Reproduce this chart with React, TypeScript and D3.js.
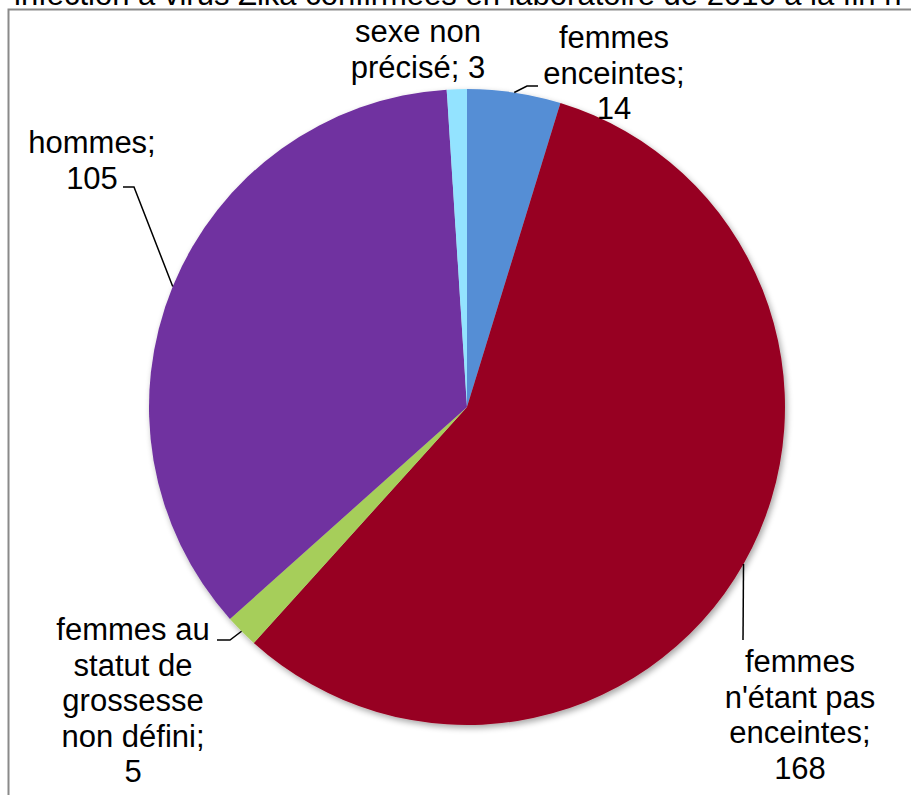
import React from "react";
import * as d3 from "d3";

const categories = [
  "femmes enceintes",
  "femmes n'étant pas enceintes",
  "femmes au statut de grossesse non défini",
  "hommes",
  "sexe non précisé",
];
const values = [14, 168, 5, 105, 3];
const colors = ["#558ED5", "#970020", "#A6CE5A", "#7030A0", "#93E3FF"];
const innerColors = ["#5A8FD6", "#970020", "#D6F59A", "#7030A0", "#2FB8D2"];
const labelLines = [
  ["femmes", "enceintes;", "14"],
  ["femmes", "n'étant pas", "enceintes;", "168"],
  ["femmes au", "statut de", "grossesse", "non défini;", "5"],
  ["hommes;", "105"],
  ["sexe non", "précisé; 3"],
];
const titleText =
  "infection à virus Zika confirmées en laboratoire de 2016 à la fin n";

// layout (not data)
const W = 911;
const H = 795;
const CX = 467;
const CY = 407;
const R = 318;
const FONT = 31;
const LH = 35.5;
const labelPos = [
  { x: 614, y: 48 },
  { x: 800, y: 672 },
  { x: 133, y: 640 },
  { x: 92, y: 153 },
  { x: 418, y: 42 },
];
// leader: elbow points after the pie-edge point
const leaders: ([number, number][] | null)[] = [
  [[527, 86], [538, 86]],
  [[743, 640]],
  [[230, 640], [217, 640]],
  [[134, 187], [123, 187]],
  null,
];

export default function App() {
  const pie = d3
    .pie<number>()
    .sort(null)
    .startAngle(0)
    .endAngle(2 * Math.PI)
    .value((d) => d);
  const arcs = pie(values);
  const arc = d3.arc<d3.PieArcDatum<number>>().innerRadius(0).outerRadius(R);

  return (
    <svg
      width={W}
      height={H}
      style={{ position: "absolute", left: 0, top: 0 }}
      fontFamily="'Liberation Sans', Arial, sans-serif"
    >
      <defs>
        <filter id="sh" x="-10%" y="-10%" width="120%" height="120%">
          <feGaussianBlur in="SourceAlpha" stdDeviation="3" />
          <feOffset dx="2" dy="3" result="b" />
          <feComponentTransfer>
            <feFuncA type="linear" slope="0.35" />
          </feComponentTransfer>
          <feMerge>
            <feMergeNode />
            <feMergeNode in="SourceGraphic" />
          </feMerge>
        </filter>
        {colors.map((c, i) => (
          <radialGradient
            key={i}
            id={`g${i}`}
            gradientUnits="userSpaceOnUse"
            cx={CX}
            cy={CY}
            r={R}
          >
            <stop offset="0" stopColor={innerColors[i]} />
            <stop offset="1" stopColor={c} />
          </radialGradient>
        ))}
      </defs>
      <rect x={0} y={0} width={W} height={H} fill="#fff" />
      <text x={14} y={5} fontSize={31} fill="#000">
        {titleText}
      </text>
      <path
        d={`M8.5,${H} L8.5,9.5 L${W},9.5`}
        fill="none"
        stroke="#8a8a8a"
        strokeWidth={2}
      />
      <g transform={`translate(${CX},${CY})`} filter="url(#sh)">
        {arcs.map((a, i) => (
          <path
            key={categories[i]}
            d={arc(a) || ""}
            fill={`url(#g${i})`}
          />
        ))}
      </g>
      {arcs.map((a, i) => {
        const pts = leaders[i];
        if (!pts) return null;
        const mid = (a.startAngle + a.endAngle) / 2;
        const ex = CX + R * Math.sin(mid);
        const ey = CY - R * Math.cos(mid);
        const line = d3.line()([[ex, ey], ...pts]);
        return (
          <path
            key={`l${i}`}
            d={line || ""}
            fill="none"
            stroke="#000"
            strokeWidth={1.5}
          />
        );
      })}
      {labelLines.map((lines, i) => (
        <text
          key={`t${i}`}
          textAnchor="middle"
          fontSize={FONT}
          fill="#000"
        >
          {lines.map((ln, j) => (
            <tspan key={j} x={labelPos[i].x} y={labelPos[i].y + j * LH}>
              {ln}
            </tspan>
          ))}
        </text>
      ))}
    </svg>
  );
}
